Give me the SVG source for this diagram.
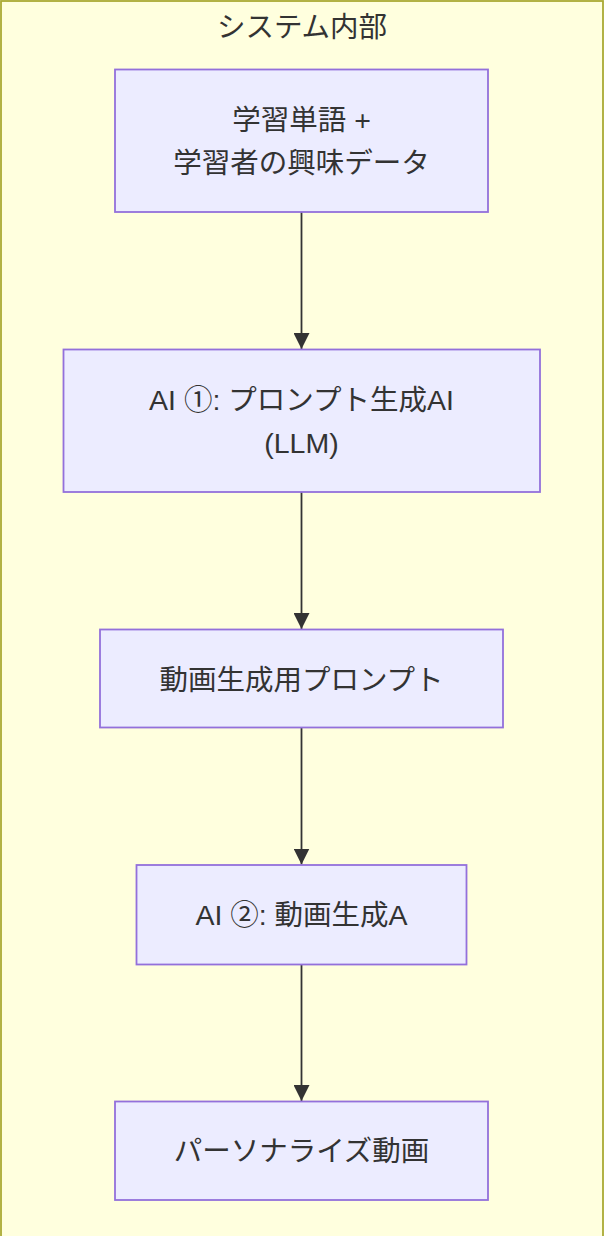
<svg xmlns="http://www.w3.org/2000/svg" width="606" height="1236" viewBox="0 0 606 1236">
<style>
.cluster{fill:#ffffde;stroke:#aaaa33;stroke-width:1.8}
.node rect{fill:#ECECFF;stroke:#9370DB;stroke-width:1.8}
text{font-family:"Liberation Sans","Noto Sans CJK JP",sans-serif;font-size:28.5px;fill:#333333;text-anchor:middle}
.edge{stroke:#333333;stroke-width:1.8;fill:none}
</style>
<defs>
<marker id="arrow" markerUnits="userSpaceOnUse" markerWidth="16" markerHeight="16" viewBox="0 0 14 14" refX="14" refY="7" orient="auto">
<path d="M0,0 L14,7 L0,14 Z" fill="#333333"/>
</marker>
</defs>
<g id="cluster-system">
<rect class="cluster" x="1" y="1" width="602" height="1250"/>
<text x="302" y="36.5">システム内部</text>
</g>
<g id="edges">
<line class="edge" x1="301.5" y1="212" x2="301.5" y2="349" marker-end="url(#arrow)"/>
<line class="edge" x1="301.5" y1="492" x2="301.5" y2="629" marker-end="url(#arrow)"/>
<line class="edge" x1="301.5" y1="727.5" x2="301.5" y2="864.5" marker-end="url(#arrow)"/>
<line class="edge" x1="301.5" y1="964.5" x2="301.5" y2="1101" marker-end="url(#arrow)"/>
</g>
<g id="node-input" class="node">
<rect x="115" y="69.5" width="373" height="142.5"/>
<text x="301.5" y="129.5">学習単語 +</text>
<text x="301.5" y="172.5">学習者の興味データ</text>
</g>
<g id="node-llm" class="node">
<rect x="63.5" y="349.5" width="476.5" height="142.5"/>
<text x="301.5" y="410">AI ①: プロンプト生成AI</text>
<text x="301.5" y="453">(LLM)</text>
</g>
<g id="node-prompt" class="node">
<rect x="100" y="629.5" width="403" height="98"/>
<text x="301.5" y="689.5">動画生成用プロンプト</text>
</g>
<g id="node-videoai" class="node">
<rect x="136.5" y="865" width="330" height="99.5"/>
<text x="301.5" y="925">AI ②: 動画生成A</text>
</g>
<g id="node-video" class="node">
<rect x="115" y="1101.5" width="373" height="98.5"/>
<text x="301.5" y="1161">パーソナライズ動画</text>
</g>
</svg>
